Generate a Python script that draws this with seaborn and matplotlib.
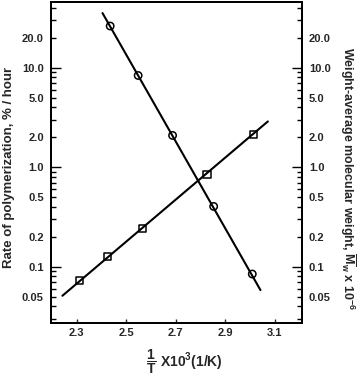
import numpy as np
import pandas as pd
import matplotlib
matplotlib.use("Agg")
import matplotlib.pyplot as plt
from matplotlib.ticker import FixedLocator, FixedFormatter
import seaborn as sns

# ---- data ----
circ_x = [2.435, 2.548, 2.687, 2.853, 3.009]
circ_y = [26.3, 8.37, 2.09, 0.404, 0.0845]
circ_fit_x = [2.404, 3.042]
circ_fit_y = [35.5, 0.0583]

sq_x = [2.311, 2.4255, 2.566, 2.826, 3.0125]
sq_y = [0.0723, 0.126, 0.245, 0.855, 2.14]
sq_fit_x = [2.242, 3.072]
sq_fit_y = [0.0511, 2.89]

x_ticks = [2.3, 2.5, 2.7, 2.9, 3.1]
x_tick_labels = ["2.3", "2.5", "2.7", "2.9", "3.1"]
y_major = [0.1, 1.0, 10.0]
y_major_labels = ["0.1", "1.0", "10.0"]
y_labeled_minor = {0.05: "0.05", 0.2: "0.2", 0.5: "0.5", 2.0: "2.0", 5.0: "5.0", 20.0: "20.0"}

sns.set_style("ticks")
plt.rcParams["font.family"] = ["Liberation Sans", "DejaVu Sans"]
plt.rcParams["font.weight"] = "bold"
plt.rcParams["mathtext.fontset"] = "custom"
plt.rcParams["mathtext.rm"] = "Liberation Sans:bold"
plt.rcParams["mathtext.bf"] = "Liberation Sans:bold"
plt.rcParams["mathtext.it"] = "Liberation Sans:bold"

fig = plt.figure(figsize=(3.6, 3.75), dpi=100)
ax = fig.add_axes([0.141, 0.1395, 0.698, 0.8555])

df_circ = pd.DataFrame({"x": circ_x, "y": circ_y})
df_sq = pd.DataFrame({"x": sq_x, "y": sq_y})
df_cfit = pd.DataFrame({"x": circ_fit_x, "y": circ_fit_y})
df_sfit = pd.DataFrame({"x": sq_fit_x, "y": sq_fit_y})

sns.lineplot(data=df_cfit, x="x", y="y", ax=ax, color="black", lw=1.5)
sns.lineplot(data=df_sfit, x="x", y="y", ax=ax, color="black", lw=1.5)
sns.scatterplot(data=df_circ, x="x", y="y", ax=ax, marker="o", s=28,
                facecolor="none", edgecolor="black", linewidth=1.1, zorder=5)
sns.scatterplot(data=df_sq, x="x", y="y", ax=ax, marker="s", s=26,
                facecolor="none", edgecolor="black", linewidth=1.1, zorder=5)

ax.set_yscale("log")
ylim = (0.0274, 46)
xlim = (2.195, 3.21)
ax.set_xlim(*xlim)
ax.set_ylim(*ylim)

minor_locs = []
for dec in [0.01, 0.1, 1.0, 10.0]:
    for m in range(2, 10):
        v = round(m * dec, 6)
        if ylim[0] <= v <= ylim[1]:
            minor_locs.append(v)
minor_labels = [y_labeled_minor.get(v, "") for v in minor_locs]


def style_y(a, side):
    a.yaxis.set_major_locator(FixedLocator(y_major))
    a.yaxis.set_major_formatter(FixedFormatter(y_major_labels))
    a.yaxis.set_minor_locator(FixedLocator(minor_locs))
    a.yaxis.set_minor_formatter(FixedFormatter(minor_labels))
    kw = dict(direction="in", labelsize=8, width=1.0, color="black", pad=5)
    if side == "left":
        a.tick_params(axis="y", which="both", left=True, right=False,
                      labelleft=True, labelright=False, **kw)
    else:
        a.tick_params(axis="y", which="both", left=False, right=True,
                      labelleft=False, labelright=True, **kw)
    a.tick_params(axis="y", which="major", length=7)
    a.tick_params(axis="y", which="minor", length=3.6)
    for lab in a.get_yticklabels(which="both"):
        lab.set_fontweight("bold")


style_y(ax, "left")
ax.set_xticks(x_ticks)
ax.set_xticklabels(x_tick_labels, fontweight="bold")
ax.tick_params(axis="x", direction="in", length=3, width=1.0, labelsize=8, pad=4,
               top=False)

ax2 = ax.twinx()
ax2.set_yscale("log")
ax2.set_ylim(*ylim)
style_y(ax2, "right")

for a in (ax, ax2):
    for sp in a.spines.values():
        sp.set_visible(True)
        sp.set_linewidth(1.4)
        sp.set_color("black")

ax.set_xlabel(r"$\dfrac{1}{T}$ X10$^3$(1/K)", fontsize=10, fontweight="bold",
              va="center")
ax.xaxis.set_label_coords(0.53, -0.122)

ax.set_ylabel("Rate of polymerization, % / hour", fontsize=9.5, fontweight="bold",
              va="center")
ax.yaxis.set_label_coords(-0.168, 0.483)

ax2.set_ylabel(r"Weight-average molecular weight, $\overline{\mathrm{M}}_\mathrm{w}$ x 10$^{-6}$",
               fontsize=9, fontweight="bold", rotation=270, va="center")
ax2.yaxis.set_label_coords(1.183, 0.449)

fig.savefig("out.png", dpi=100)
